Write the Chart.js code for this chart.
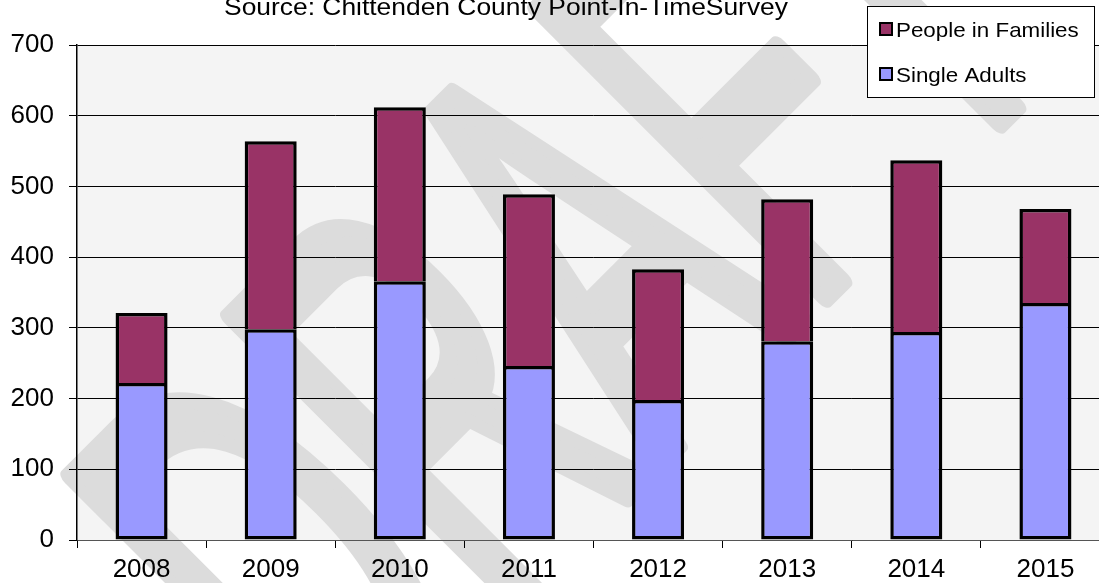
<!DOCTYPE html>
<html>
<head>
<meta charset="utf-8">
<script src="https://cdn.jsdelivr.net/npm/chart.js@4.4.1/dist/chart.umd.min.js"></script>
<style>
  html, body { margin: 0; padding: 0; overflow: hidden; background: #fff; }
  #wrap { width: 1110px; height: 583px; position: relative; }
</style>
</head>
<body>
<div id="wrap"><canvas id="pitChart"></canvas></div>
<script>
// values
const years = ['2008', '2009', '2010', '2011', '2012', '2013', '2014', '2015'];
const singleAdults = [222, 298, 366, 246, 198, 281, 294, 335];
const peopleInFamilies = [99, 266, 246, 243, 185, 201, 243, 133];
const yMin = 0, yMax = 700, yStep = 100;
const titleText = 'Source: Chittenden County Point-In-TimeSurvey';
const watermarkText = 'DRAFT';

const FONT = '"Liberation Sans", Arial, sans-serif';
Chart.defaults.font.family = FONT;
Chart.defaults.color = '#000';

// page + plot background, then the grey DRAFT watermark behind everything
const backdrop = {
  id: 'backdrop',
  beforeDraw(chart) {
    const { ctx, chartArea: a, width, height } = chart;
    ctx.save();
    ctx.fillStyle = '#fff';
    ctx.fillRect(0, 0, width, height);
    ctx.fillStyle = '#f4f4f4';
    ctx.fillRect(a.left, a.top, a.right - a.left, a.bottom - a.top);

    ctx.translate(338, 784);
    ctx.rotate(-Math.PI / 4);
    ctx.scale(0.53, 1);
    ctx.font = '590px ' + FONT;
    ctx.fillStyle = '#dcdcdc';
    ctx.strokeStyle = '#dcdcdc';
    ctx.lineWidth = 22;
    ctx.lineJoin = 'round';
    ctx.textBaseline = 'alphabetic';
    ctx.fillText(watermarkText, 0, 0);
    ctx.strokeText(watermarkText, 0, 0);
    ctx.restore();
  }
};

// title at the top and the boxed legend floating over the plot
const overlay = {
  id: 'overlay',
  afterDraw(chart) {
    const ctx = chart.ctx;
    ctx.save();
    ctx.fillStyle = '#000';
    ctx.textBaseline = 'alphabetic';
    ctx.textAlign = 'center';
    ctx.font = '24px ' + FONT;
    ctx.save();
    ctx.translate(506, 15);
    ctx.scale(1.1, 1);
    ctx.fillText(titleText, 0, 0);
    ctx.restore();

    // legend box
    ctx.fillStyle = '#fff';
    ctx.fillRect(867, 6, 227, 91);
    ctx.strokeStyle = '#000';
    ctx.lineWidth = 1;
    ctx.strokeRect(867.5, 6.5, 227, 91);

    const items = chart.data.datasets.slice().reverse();
    const rowsY = [37, 82];
    items.forEach((ds, i) => {
      const by = rowsY[i];
      ctx.fillStyle = ds.backgroundColor;
      ctx.fillRect(880, by - 14, 12, 12);
      ctx.strokeStyle = '#000';
      ctx.lineWidth = 2;
      ctx.strokeRect(880, by - 14, 12, 12);
      ctx.fillStyle = '#000';
      ctx.textAlign = 'left';
      ctx.font = '21px ' + FONT;
      ctx.save();
      ctx.translate(896, by);
      ctx.scale(1.065, 1);
      ctx.fillText(ds.label, 0, 0);
      ctx.restore();
    });
    ctx.restore();
  }
};

const ctx = document.getElementById('pitChart').getContext('2d');

new Chart(ctx, {
  type: 'bar',
  data: {
    labels: years,
    datasets: [
      {
        label: 'Single Adults',
        data: singleAdults,
        backgroundColor: '#9999ff',
        borderColor: '#000',
        borderWidth: 3.5,
        borderSkipped: false
      },
      {
        label: 'People in Families',
        data: peopleInFamilies,
        backgroundColor: '#993366',
        borderColor: '#000',
        borderWidth: 3.5,
        borderSkipped: 'start'
      }
    ]
  },
  options: {
    responsive: true,
    maintainAspectRatio: false,
    animation: false,
    datasets: {
      bar: { categoryPercentage: 1, barPercentage: 0.403 }
    },
    layout: { padding: { top: 45, left: 11, right: 0, bottom: 0 } },
    plugins: {
      legend: { display: false },
      title: { display: false },
      tooltip: { enabled: false }
    },
    scales: {
      x: {
        stacked: true,
        border: { display: true, color: '#555', width: 1 },
        grid: {
          offset: true,
          drawOnChartArea: false,
          drawTicks: true,
          tickLength: 8,
          color: '#000'
        },
        ticks: {
          font: { size: 26, lineHeight: 1 },
          padding: 9,
          color: '#000',
          maxRotation: 0
        },
        afterFit(scale) { scale.height = 43; }
      },
      y: {
        stacked: true,
        min: yMin,
        max: yMax,
        border: { display: true, color: '#000', width: 1.5 },
        grid: {
          color: '#000',
          lineWidth: 1,
          tickLength: 8
        },
        ticks: {
          stepSize: yStep,
          font: { size: 26 },
          padding: 15,
          color: '#000'
        },
        afterFit(scale) { scale.width = 66; }
      }
    }
  },
  plugins: [backdrop, overlay]
});
</script>
</body>
</html>
